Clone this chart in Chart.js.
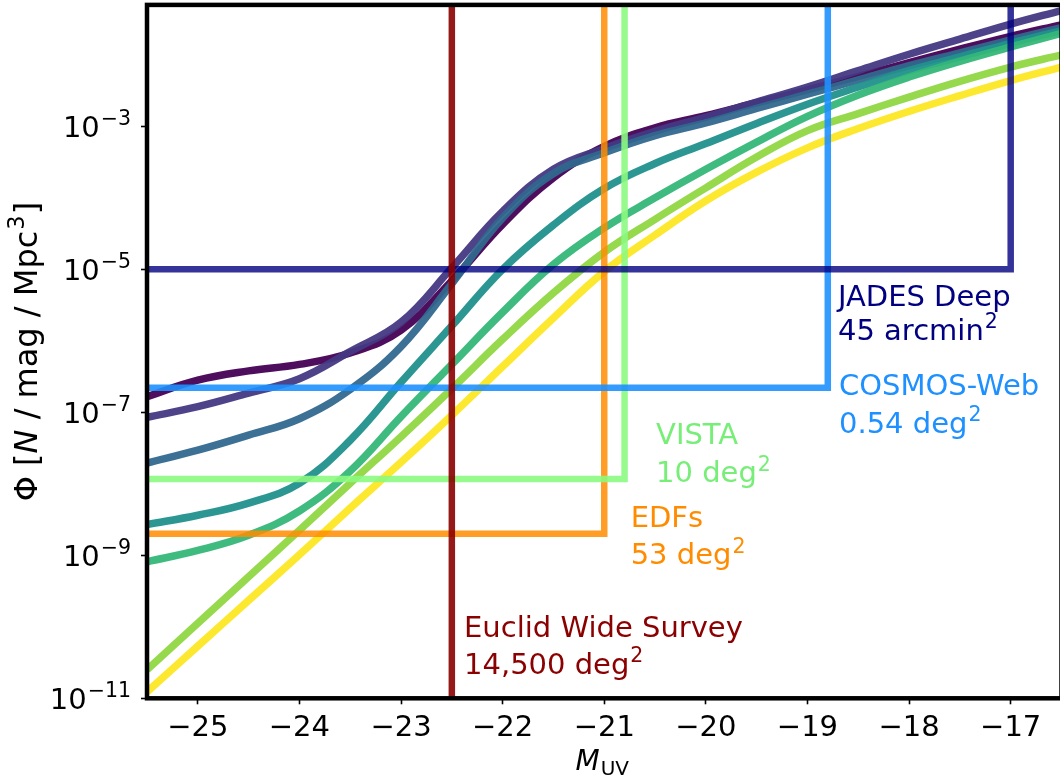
<!DOCTYPE html>
<html>
<head>
<meta charset="utf-8">
<script src="https://cdn.jsdelivr.net/npm/chart.js@4.4.1/dist/chart.umd.min.js"></script>
<style>
  html, body { margin: 0; padding: 0; background: #fff; overflow: hidden; width: 1060px; height: 779px; }
  #wrap { width: 1060px; height: 779px; overflow: hidden; }
  canvas { display: block; }
</style>
</head>
<body>
<div id="wrap"><canvas id="lf" width="1064" height="779"></canvas></div>
<script>
// Absolute UV magnitude grid shared by all luminosity functions
const magnitudes = [-25.5, -25, -24.5, -24, -23.5, -23, -22.5, -22, -21.5, -21,
                    -20.5, -20, -19.5, -19, -18.5, -18, -17.5, -17, -16.5];

// Number densities Phi [N / mag / Mpc^3], one list per luminosity function
const phiCurve1 = [1.66e-7, 2.82e-7, 3.80e-7, 4.68e-7, 6.76e-7, 1.41e-6, 6.92e-6, 4.27e-5, 1.91e-4, 5.25e-4,
                   9.55e-4, 1.41e-3, 2.14e-3, 3.24e-3, 5.01e-3, 7.76e-3, 1.20e-2, 1.82e-2, 2.63e-2];
const phiCurve2 = [8.51e-8, 1.20e-7, 1.86e-7, 2.95e-7, 7.08e-7, 1.82e-6, 1.05e-5, 6.46e-5, 2.51e-4, 4.90e-4,
                   8.51e-4, 1.35e-3, 2.19e-3, 3.55e-3, 6.03e-3, 1.02e-2, 1.66e-2, 2.69e-2, 4.17e-2];
const phiCurve3 = [1.95e-8, 2.95e-8, 4.79e-8, 8.13e-8, 2.09e-7, 8.32e-7, 6.31e-6, 5.25e-5, 2.19e-4, 4.27e-4,
                   7.41e-4, 1.12e-3, 1.78e-3, 2.82e-3, 4.47e-3, 7.08e-3, 1.07e-2, 1.62e-2, 2.40e-2];
const phiCurve4 = [2.69e-9, 3.63e-9, 5.37e-9, 1.02e-8, 4.07e-8, 2.63e-7, 1.62e-6, 1.00e-5, 4.17e-5, 1.35e-4,
                   3.02e-4, 5.75e-4, 1.10e-3, 2.04e-3, 3.55e-3, 6.03e-3, 9.33e-3, 1.45e-2, 2.19e-2];
const phiCurve5 = [8.13e-10, 1.17e-9, 1.91e-9, 4.17e-9, 1.51e-8, 8.71e-8, 4.68e-7, 2.51e-6, 1.17e-5, 3.80e-5,
                   1.00e-4, 2.51e-4, 6.03e-4, 1.38e-3, 2.75e-3, 4.90e-3, 8.13e-3, 1.29e-2, 2.00e-2];
const phiCurve6 = [2.51e-11, 1.12e-10, 5.01e-10, 2.24e-9, 1.02e-8, 4.57e-8, 2.14e-7, 1.05e-6, 4.68e-6, 1.74e-5,
                   5.01e-5, 1.38e-4, 3.72e-4, 8.71e-4, 1.51e-3, 2.57e-3, 4.27e-3, 6.76e-3, 1.00e-2];
const phiCurve7 = [1.23e-11, 5.37e-11, 2.34e-10, 1.02e-9, 4.57e-9, 2.00e-8, 9.12e-8, 4.37e-7, 2.09e-6, 9.33e-6,
                   3.02e-5, 9.12e-5, 2.29e-4, 5.01e-4, 9.33e-4, 1.62e-3, 2.69e-3, 4.37e-3, 6.76e-3];

// Surveys: depth (limiting magnitude) and the density floor set by their area
const surveyNames     = ['Euclid Wide Survey', 'EDFs', 'VISTA', 'COSMOS-Web', 'JADES Deep'];
const surveyAreas     = ['14,500', '53', '10', '0.54', '45'];
const surveyAreaUnits = ['deg', 'deg', 'deg', 'deg', 'arcmin'];
const surveyMagLimits = [-22.5, -21.0, -20.8, -18.8, -17.0];
const surveyPhiLimits = [8.6e-12, 2.0e-9, 1.17e-8, 2.2e-7, 1.0e-5];

// Axis ticks
const xTicks = [-25, -24, -23, -22, -21, -20, -19, -18, -17];
const yTickExponents = [-11, -9, -7, -5, -3];

// ---- styling ----
const X_MIN = -25.5, X_MAX = -16.5, Y_MIN = 1e-11, Y_MAX = 0.05;
const FONT = '"DejaVu Sans", "Liberation Sans", sans-serif';
const TEXT = 29, SUP = 20.5;
const curveColors = ['rgba(68,1,84,0.95)', 'rgba(68,57,131,0.95)', 'rgba(49,104,142,0.95)', 'rgba(33,145,140,0.95)',
                     'rgba(53,183,121,0.95)', 'rgba(144,215,67,0.95)', 'rgba(253,231,37,0.95)'];
const surveyLineColors = ['rgba(139,0,0,0.9)', 'rgba(255,140,0,0.85)', 'rgba(140,250,128,0.9)',
                          'rgba(30,144,255,0.9)', 'rgba(0,0,128,0.8)'];
const surveyTextColors = ['#8B0000', '#FF8C00', '#77ee77', '#1E90FF', '#000080'];
// where each survey caption sits (magnitude, Phi of first baseline) and its line spacing in px
const captionAnchors = [
  { m: -22.38, phi: 7.14e-11, gap: 36.7 },
  { m: -20.74, phi: 2.51e-9,  gap: 37.6 },
  { m: -20.49, phi: 3.56e-8,  gap: 38.0 },
  { m: -18.69, phi: 1.74e-7,  gap: 37.7 },
  { m: -18.70, phi: 3.05e-6,  gap: 33.3 }
];

const curves = [phiCurve1, phiCurve2, phiCurve3, phiCurve4, phiCurve5, phiCurve6, phiCurve7];
const datasets = [];
curves.forEach((phi, i) => {
  datasets.push({
    data: magnitudes.map((m, j) => ({ x: m, y: phi[j] })),
    borderColor: curveColors[i],
    borderWidth: 7.5,
    pointRadius: 0,
    fill: false,
    tension: 0.4,
    borderCapStyle: 'butt',
    borderJoinStyle: 'round',
    clip: 0,
    order: 40 - i
  });
});
surveyNames.forEach((name, i) => {
  datasets.push({
    data: [
      { x: X_MIN, y: surveyPhiLimits[i] },
      { x: surveyMagLimits[i], y: surveyPhiLimits[i] },
      { x: surveyMagLimits[i], y: Y_MAX }
    ],
    borderColor: surveyLineColors[i],
    borderWidth: 6.5,
    pointRadius: 0,
    fill: false,
    tension: 0,
    borderJoinStyle: 'miter',
    borderCapStyle: 'butt',
    clip: 0,
    order: i === 0 ? 0 : 10 - i
  });
});

function runFont(r) { return (r.italic ? 'italic ' : '') + r.size + 'px ' + FONT; }
function drawRuns(ctx, runs, x, y, align) {
  let total = 0;
  for (const r of runs) { ctx.font = runFont(r); r.w = ctx.measureText(r.text).width; total += r.w + (r.pre || 0); }
  let cx = align === 'center' ? x - total / 2 : (align === 'right' ? x - total : x);
  for (const r of runs) {
    cx += (r.pre || 0);
    ctx.font = runFont(r);
    ctx.fillText(r.text, cx, y + (r.dy || 0));
    cx += r.w;
  }
}
const minus = s => String(s).replace('-', '\u2212');

const decorations = {
  id: 'decorations',
  afterDatasetsDraw(chart) {
    const { ctx, chartArea: a, scales: { x, y } } = chart;
    ctx.save();
    // axes frame
    ctx.strokeStyle = '#000';
    ctx.lineWidth = 4.5;
    ctx.strokeRect(a.left, a.top, a.right - a.left, a.bottom - a.top);

    ctx.textAlign = 'left';
    ctx.textBaseline = 'alphabetic';
    ctx.fillStyle = '#000';

    // x tick labels
    xTicks.forEach(v => {
      drawRuns(ctx, [{ text: minus(v), size: TEXT }], x.getPixelForValue(v), a.bottom + 37.5, 'center');
    });
    // y tick labels: 10 with superscript exponent
    yTickExponents.forEach(e => {
      const py = y.getPixelForValue(Math.pow(10, e));
      drawRuns(ctx, [{ text: '10', size: TEXT }, { text: minus(e), size: SUP, dy: -12, pre: 1 }],
               a.left - 16, py + 10.8, 'right');
    });

    // x title: M_UV
    drawRuns(ctx, [{ text: 'M', size: 28, italic: true }, { text: 'UV', size: 20, dy: 5, pre: 1 }],
             (a.left + a.right) / 2 - 2, 770, 'center');

    // y title (rotated)
    ctx.save();
    ctx.translate(37, (a.top + a.bottom) / 2);
    ctx.rotate(-Math.PI / 2);
    drawRuns(ctx, [
      { text: '\u03A6 [', size: 32 },
      { text: 'N', size: 32, italic: true },
      { text: ' / mag / Mpc', size: 32 },
      { text: '3', size: 22.5, dy: -13.5, pre: 1 },
      { text: ']', size: 32, pre: 1 }
    ], 0, 0, 'center');
    ctx.restore();

    // survey captions
    surveyNames.forEach((name, i) => {
      const c = captionAnchors[i];
      const px = x.getPixelForValue(c.m), py = y.getPixelForValue(c.phi);
      ctx.fillStyle = surveyTextColors[i];
      drawRuns(ctx, [{ text: name, size: TEXT }], px, py, 'left');
      drawRuns(ctx, [{ text: surveyAreas[i] + ' ' + surveyAreaUnits[i], size: TEXT },
                     { text: '2', size: SUP, dy: -11.5, pre: 1 }], px, py + c.gap, 'left');
    });
    ctx.restore();
  }
};

new Chart(document.getElementById('lf'), {
  type: 'line',
  data: { datasets },
  options: {
    responsive: false,
    animation: false,
    events: [],
    devicePixelRatio: 1,
    layout: { autoPadding: false, padding: { left: 0, right: 2.5, top: 4.9, bottom: 0 } },
    plugins: { legend: { display: false }, tooltip: { enabled: false } },
    scales: {
      x: {
        type: 'linear', position: 'bottom', min: X_MIN, max: X_MAX,
        afterBuildTicks: s => { s.ticks = xTicks.map(v => ({ value: v })); },
        afterFit: s => { s.height = 80.7; },
        ticks: { display: false, autoSkip: false },
        grid: { display: true, drawOnChartArea: false, drawTicks: true, tickLength: 6, tickWidth: 1.6, tickColor: '#000' },
        border: { display: false }
      },
      y: {
        type: 'logarithmic', position: 'left', min: Y_MIN, max: Y_MAX,
        afterBuildTicks: s => { s.ticks = yTickExponents.map(e => ({ value: Math.pow(10, e) })); },
        afterFit: s => { s.width = 147; },
        ticks: { display: false, autoSkip: false },
        grid: { display: true, drawOnChartArea: false, drawTicks: true, tickLength: 6, tickWidth: 1.6, tickColor: '#000' },
        border: { display: false }
      }
    }
  },
  plugins: [decorations]
});
</script>
</body>
</html>
